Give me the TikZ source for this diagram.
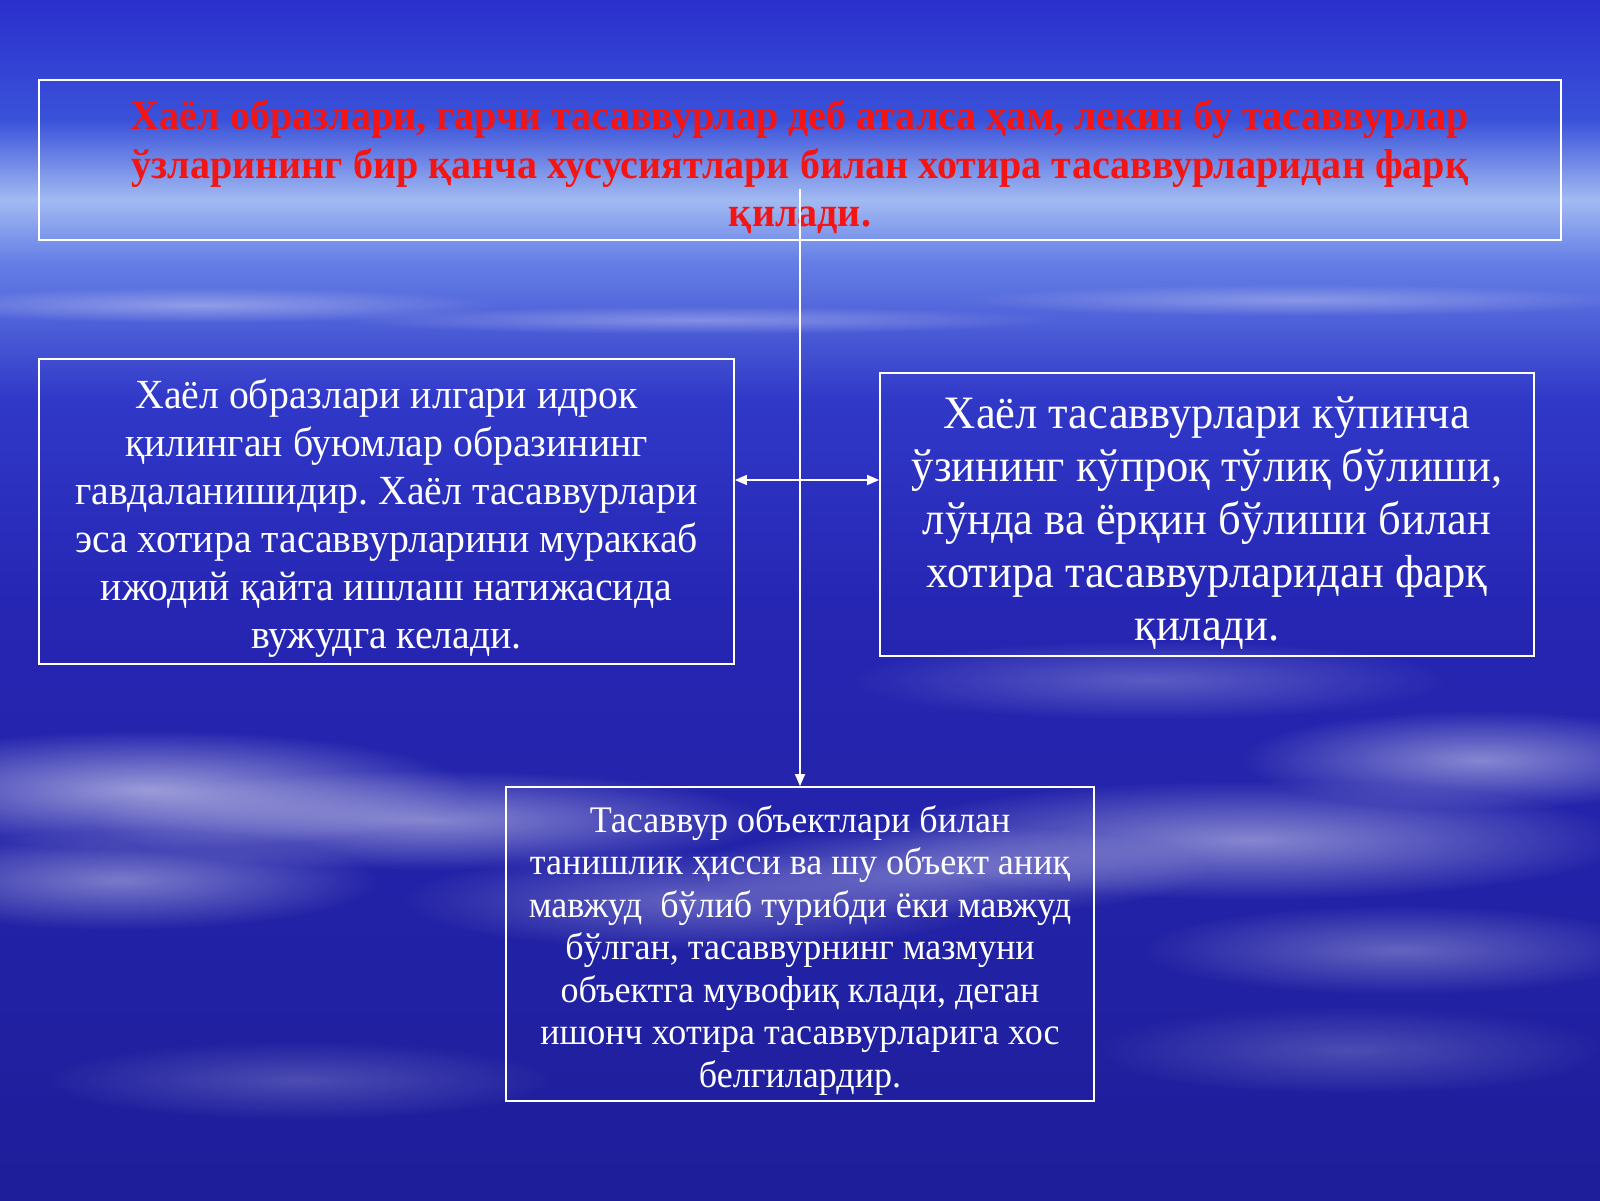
\documentclass[tikz,border=0pt]{standalone}
\usepackage{fontspec}
\setmainfont[FakeStretch=0.96]{Liberation Serif}
\usetikzlibrary{arrows.meta,fadings}
\definecolor{skyA}{HTML}{2A30CC}
\definecolor{skyB}{HTML}{3A52DA}
\definecolor{skyC}{HTML}{A2BAF2}
\definecolor{skyD}{HTML}{6680E6}
\definecolor{skyE}{HTML}{3038C8}
\definecolor{skyF}{HTML}{2626B4}
\definecolor{skyG}{HTML}{1E1E9A}
\definecolor{titlered}{HTML}{F41414}
\tikzfading[name=soft,inner color=transparent!0,outer color=transparent!100]
\newcommand\toppad{\rule{0pt}{1.05em}}
\frenchspacing
\begin{document}
\begin{tikzpicture}[x=0.25mm,y=0.25mm,
		box/.style={draw=white,line width=1.2pt,align=center,inner sep=0pt,text=white},
		link/.style={white,line width=1.2pt,arrows={-Triangle[length=8.5pt,width=7pt]}},
		cloud/.style={white,path fading=soft}]
	\useasboundingbox (0,0) rectangle (1600,1200);
	\shade[top color=skyA,bottom color=skyB] (0,1200) rectangle (1600,1080);
	\shade[top color=skyB,bottom color=skyC] (0,1080) rectangle (1600,1000);
	\shade[top color=skyC,bottom color=skyD] (0,1000) rectangle (1600,940);
	\shade[top color=skyD,bottom color=skyE] (0,940) rectangle (1600,800);
	\shade[top color=skyE,bottom color=skyF] (0,800) rectangle (1600,600);
	\shade[top color=skyF,bottom color=skyG] (0,600) rectangle (1600,0);
	\foreach \x/\y/\a/\b/\o in {200/895/300/18/0.35, 700/880/360/14/0.3, 1300/900/340/16/0.3,
			150/410/320/60/0.55, 430/380/340/50/0.45, 120/320/260/50/0.4,
			700/300/300/50/0.3, 1250/360/380/60/0.45, 1480/440/240/50/0.45,
			950/330/260/45/0.35, 1150/520/300/40/0.25, 1400/250/260/45/0.3,
			300/120/260/40/0.2, 1350/150/260/45/0.2}
		\fill[cloud,opacity=\o] (\x,\y) ellipse ({\a*0.25mm} and {\b*0.25mm});
	\node[box,minimum width=380.5mm,minimum height=40mm,text=titlered,
		font={\fontsize{29.7}{34.4}\selectfont\bfseries}] (title) at (800,1040)
		{\toppad Хаёл образлари, гарчи тасаввурлар деб аталса ҳам, лекин бу тасаввурлар\\
		ўзларининг бир қанча хусусиятлари билан хотира тасаввурларидан фарқ\\
		қилади.};
	\node[box,minimum width=173.75mm,minimum height=76.25mm,
		font={\fontsize{29.45}{34.1}\selectfont}] (images) at (386.5,688.5)
		{\toppad Хаёл образлари илгари идрок\\
		қилинган буюмлар образининг\\
		гавдаланишидир. Хаёл тасаввурлари\\
		эса хотира тасаввурларини мураккаб\\
		ижодий қайта ишлаш натижасида\\
		вужудга келади.};
	\node[box,minimum width=163.5mm,minimum height=70.75mm,
		font={\fontsize{33}{37.7}\selectfont}] (vivid) at (1207,685.5)
		{\toppad Хаёл тасаввурлари кўпинча\\
		ўзининг кўпроқ тўлиқ бўлиши,\\
		лўнда ва ёрқин бўлиши билан\\
		хотира тасаввурларидан фарқ\\
		қилади.};
	\node[box,minimum width=147mm,minimum height=78.5mm,
		font={\fontsize{26.7}{30.2}\selectfont}] (memory) at (800,256)
		{\toppad Тасаввур объектлари билан\\
		танишлик ҳисси ва шу объект аниқ\\
		мавжуд\ \ бўлиб турибди ёки мавжуд\\
		бўлган, тасаввурнинг мазмуни\\
		объектга мувофиқ клади, деган\\
		ишонч хотира тасаввурларига хос\\
		белгилардир.};
	\coordinate (stem) at (800,1011);
	\coordinate (hub) at (800,720);
	\draw[link] (stem) -- (memory.north);
	\draw[link,{Triangle[length=8.5pt,width=7pt]}-{Triangle[length=8.5pt,width=7pt]}] (images.east |- hub) -- (vivid.west |- hub);
\end{tikzpicture}
\end{document}
